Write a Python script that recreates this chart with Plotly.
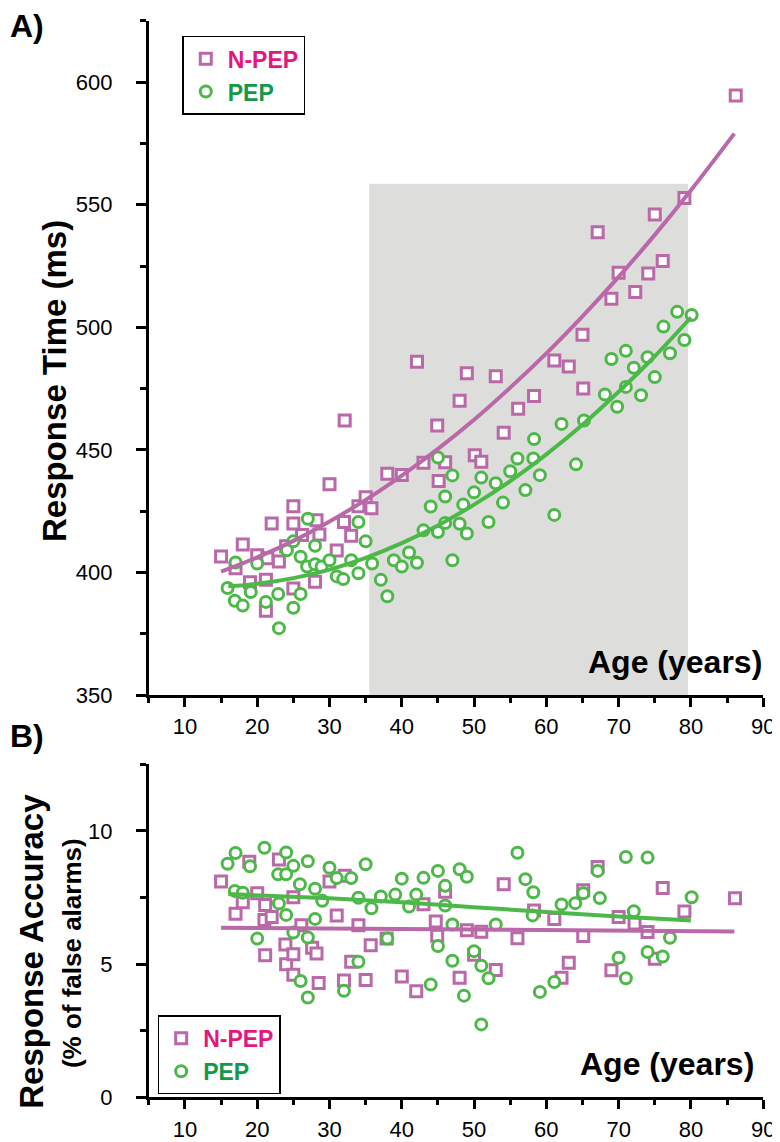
import plotly.graph_objects as go

# ---------------- data ----------------
# Panel A: response time (ms)
npep_rt_age = [15, 17, 18, 19, 20, 21.2, 21.2, 21.4, 22, 23, 24, 25, 25, 25, 26.2, 28, 28.2, 28.6, 30, 31,
               32, 32.1, 33, 34, 35, 35.8, 38, 40, 42.1, 43, 44.9, 45.1, 46, 48, 49, 50.1, 51, 53, 54.1, 56.1,
               58.3, 61.1, 63.1, 65, 65.1, 67.1, 69, 70, 72.3, 74.1, 75, 76.1, 79.1, 86.2]
npep_rt = [406.5, 401.7, 411.4, 396, 407, 397, 384.4, 405.8, 420, 404.5, 410.7, 427, 420, 393.5, 415.3, 396.2,
           421.3, 415.5, 436, 409, 420.6, 462, 415, 427, 430.7, 426.2, 440.3, 439.8, 486, 444.8, 460, 437.3,
           445, 470, 481.3, 447.8, 445.2, 480, 457, 466.8, 472, 486.5, 484, 497, 475, 538.8, 511.7, 522.3,
           514.4, 522, 546, 527, 552.7, 594.6]

pep_rt_age = [15.9, 16.9, 17, 18, 19.1, 20, 21.2, 22.9, 23, 24.1, 25, 25, 26, 26, 26.9, 27, 28, 28, 28.9, 30,
              31, 31.9, 33, 34, 34, 35, 35.9, 37.1, 38, 38.9, 40, 41, 42.1, 43, 44, 45, 45, 46, 46, 47, 47, 48,
              48.5, 49, 50, 51, 52, 53, 54, 55, 56, 57.1, 58.2, 58.3, 59.1, 61.1, 62.1, 64.1, 65.2, 68.1, 69,
              69.8, 71, 71, 72.1, 73.1, 74, 75, 76.2, 77.1, 78.1, 79.1, 80.1]
pep_rt = [393.7, 388.5, 404.1, 386.5, 392, 403.7, 388, 391.2, 377.3, 409.1, 412.7, 385.6, 391.2, 406.4, 402.4,
          421.9, 410.9, 403.4, 402.4, 405, 398.4, 397.3, 405, 420.6, 399.7, 412.7, 403.7, 397, 390.3, 405,
          402.4, 408.2, 404, 417.2, 426.9, 446.9, 416.5, 431, 420.2, 439.6, 405, 419.9, 427.7, 415.9, 432.7,
          438.7, 420.6, 436.4, 428.5, 441.3, 446.5, 433.6, 446.5, 454.4, 439.7, 423.5, 460.6, 444.1, 462,
          472.6, 487.1, 467.6, 490.4, 475.7, 483.5, 472.3, 487.8, 479.7, 500.3, 489.4, 506.3, 494.8, 505]

# fitted curves
npep_rt_fit_age = [15, 20, 25, 30, 35, 40, 45, 50, 55, 60, 65, 70, 75, 80, 86]
npep_rt_fit = [400.4, 406.2, 412.9, 420.8, 429.6, 439.5, 450.4, 462.3, 475.4, 489.4, 504.5, 520.6, 537.7, 555.9, 579]
pep_rt_fit_age = [16, 20, 25, 30, 35, 40, 45, 50, 55, 60, 65, 70, 75, 80]
pep_rt_fit = [394.4, 395.4, 397.7, 401.2, 406.0, 412.0, 419.2, 427.7, 437.3, 448.2, 460.3, 473.7, 488.2, 504]

# shaded age band
band_age = [35.5, 79.6]
band_top = 558.6

# Panel B: response accuracy (% false alarms)
npep_acc_age = [15, 17, 18, 18.9, 20, 21, 21.1, 21.1, 22, 23, 23.9, 24, 25, 25, 25, 26.1, 27.6, 28.2, 28.5, 30,
                31, 32.1, 32, 33, 34, 35, 35.7, 37.9, 40, 42, 43, 44.7, 44.9, 46, 48, 49, 50, 51, 53, 54.1,
                56, 58.3, 61.1, 62.1, 63.1, 65.1, 65.1, 67.1, 69, 70, 72.2, 74, 75, 76.1, 79.1, 86.1]
npep_acc = [8.10, 6.89, 7.32, 8.84, 7.66, 6.66, 7.22, 5.34, 6.77, 8.93, 5.74, 5.0, 5.37, 7.51, 4.60, 6.46, 5.62,
            5.40, 4.29, 8.10, 6.83, 8.32, 4.39, 5.09, 6.46, 4.41, 5.71, 5.96, 4.54, 3.98, 7.25, 6.60, 6.07, 7.72,
            4.49, 6.27, 5.35, 6.22, 4.78, 8.0, 5.97, 7.01, 6.70, 4.49, 5.05, 7.77, 6.06, 8.65, 4.77, 6.77, 6.53,
            6.21, 5.20, 7.86, 6.98, 7.47]

pep_acc_age = [15.9, 17, 16.9, 18, 19, 20, 21, 22.9, 23, 24, 24, 24, 25, 25, 25.9, 26, 27, 27, 27, 28, 28, 29,
               30, 31, 32, 33, 34, 34, 35, 35.8, 37.1, 38, 39.1, 40, 41, 42, 43, 44, 45, 45, 46, 46, 47, 47, 48,
               48.6, 49, 50, 51, 51, 52, 53, 56, 57.1, 58.2, 58.1, 59.1, 61.1, 62.1, 64, 65.1, 67.1, 67.4, 70,
               71, 71, 72.1, 74, 74, 76.1, 77.1, 80.1]
pep_acc = [8.77, 9.17, 7.75, 7.68, 8.67, 5.96, 9.37, 8.37, 7.28, 9.19, 8.37, 6.85, 8.69, 6.19, 8.0, 4.37, 8.86,
           6.0, 3.75, 7.83, 6.70, 7.38, 8.62, 8.23, 4.0, 8.23, 7.49, 5.09, 8.75, 7.1, 7.54, 5.96, 7.61, 8.21,
           7.16, 7.61, 8.24, 4.24, 8.5, 5.68, 7.94, 7.2, 6.49, 5.13, 8.56, 3.82, 8.28, 5.49, 4.94, 2.74, 4.47,
           6.49, 9.18, 8.19, 7.7, 6.83, 3.96, 4.33, 7.24, 7.29, 7.66, 8.5, 7.48, 5.24, 9.02, 4.47, 6.99, 9.0,
           5.46, 5.29, 5.99, 7.51]

npep_acc_fit_age = [15, 86]
npep_acc_fit = [6.37, 6.23]
pep_acc_fit_age = [16, 30, 40, 50, 60, 70, 80]
pep_acc_fit = [7.63, 7.47, 7.32, 7.14, 6.96, 6.79, 6.64]

x_ticks = [10, 20, 30, 40, 50, 60, 70, 80, 90]
rt_ticks = [350, 400, 450, 500, 550, 600]
acc_ticks = [0, 5, 10]

# ---------------- style ----------------
PINK = "#b968a8"
GREEN = "#4cb848"
PINK_TXT = "#e3177f"
GREEN_TXT = "#129a48"
SHADE = "#dddddb"
FONT = "Liberation Sans, Arial, sans-serif"
W, H = 780, 1142

fig = go.Figure()

def scat(x, y, sym, col, name, xa, ya, leg, show=True):
    return go.Scatter(x=x, y=y, mode="markers", xaxis=xa, yaxis=ya, name=name,
                      legend=leg, showlegend=show,
                      marker=dict(symbol=sym, size=11, color="white",
                                  line=dict(color=col, width=3)))

def fitline(x, y, col, xa, ya):
    return go.Scatter(x=x, y=y, mode="lines", xaxis=xa, yaxis=ya, showlegend=False,
                      line=dict(color=col, width=4, shape="spline"), hoverinfo="skip")

npep_name = f"<b><span style='color:{PINK_TXT}'>N-PEP</span></b>"
pep_name = f"<b><span style='color:{GREEN_TXT}'>PEP</span></b>"

# Panel A
fig.add_trace(scat(npep_rt_age, npep_rt, "square", PINK, npep_name, "x", "y", "legend"))
fig.add_trace(scat(pep_rt_age, pep_rt, "circle", GREEN, pep_name, "x", "y", "legend"))
fig.add_trace(fitline(npep_rt_fit_age, npep_rt_fit, PINK, "x", "y"))
fig.add_trace(fitline(pep_rt_fit_age, pep_rt_fit, GREEN, "x", "y"))
# Panel B
fig.add_trace(scat(npep_acc_age, npep_acc, "square", PINK, npep_name, "x2", "y2", "legend2"))
fig.add_trace(scat(pep_acc_age, pep_acc, "circle", GREEN, pep_name, "x2", "y2", "legend2"))
fig.add_trace(fitline(npep_acc_fit_age, npep_acc_fit, PINK, "x2", "y2"))
fig.add_trace(fitline(pep_acc_fit_age, pep_acc_fit, GREEN, "x2", "y2"))

fig.add_shape(type="rect", xref="x", yref="y", x0=band_age[0], x1=band_age[1], y0=350, y1=band_top,
              fillcolor=SHADE, line=dict(width=0), layer="below")

xdom = [143 / W, 767 / W]
ydomA = [1 - 695 / H, 1 - 13 / H]
ydomB = [1 - 1102 / H, 1 - 765 / H]

axis_common = dict(showgrid=False, zeroline=False, showline=True, linecolor="black", linewidth=3,
                   ticks="outside", tickcolor="black", tickwidth=2.5, color="black",
                   tickfont=dict(family=FONT, size=22, color="black"))

xax = dict(axis_common, range=[5, 90], tickvals=x_ticks, ticklen=9, ticklabelstandoff=1,
           minor=dict(dtick=5, tick0=5, ticks="outside", ticklen=5, tickwidth=2.5, tickcolor="black"),
           domain=xdom)
fig.update_layout(
    xaxis=dict(xax, anchor="y"),
    xaxis2=dict(xax, anchor="y2"),
    yaxis=dict(axis_common, range=[350, 625], tickvals=rt_ticks, ticklen=10, ticklabelstandoff=19,
               minor=dict(dtick=50, tick0=375, ticks="outside", ticklen=6, tickwidth=2.5, tickcolor="black"),
               domain=ydomA, anchor="x"),
    yaxis2=dict(axis_common, range=[0, 12.5], tickvals=acc_ticks, ticklen=10, ticklabelstandoff=19,
                minor=dict(dtick=5, tick0=2.5, ticks="outside", ticklen=6, tickwidth=2.5, tickcolor="black"),
                domain=ydomB, anchor="x2"),
    width=W, height=H, margin=dict(l=0, r=0, t=0, b=0),
    plot_bgcolor="white", paper_bgcolor="white",
    font=dict(family=FONT, color="black"),
    legend=dict(x=177 / W, y=1 - 28 / H, xanchor="left", yanchor="top", bgcolor="white",
                bordercolor="black", borderwidth=1.5, font=dict(family=FONT, size=23),
                itemsizing="trace", tracegroupgap=0, itemwidth=34),
    legend2=dict(x=152 / W, y=1 - 1019 / H, xanchor="left", yanchor="top", bgcolor="white",
                 bordercolor="black", borderwidth=1.5, font=dict(family=FONT, size=23),
                 itemsizing="trace", tracegroupgap=0, itemwidth=34),
)

def ann(text, x, y, size, angle=0, xanchor="center", bold=True):
    fig.add_annotation(text=f"<b>{text}</b>" if bold else text, xref="paper", yref="paper",
                       x=x / W, y=1 - y / H, xanchor=xanchor, yanchor="middle", showarrow=False,
                       textangle=angle, font=dict(family=FONT, size=size, color="black"))

ann("A)", 0, 18, 32, xanchor="left")
ann("B)", 0, 736, 32, xanchor="left")
ann("Response Time (ms)", 47, 377, 33, angle=-90)
ann("Response Accuracy", 24, 954, 33, angle=-90)
ann("(% of false alarms)", 65, 956, 26, angle=-90)
ann("Age (years)", 768, 662, 32, xanchor="right")
ann("Age (years)", 760, 1068, 32, xanchor="right")

fig.write_html("out.html")
